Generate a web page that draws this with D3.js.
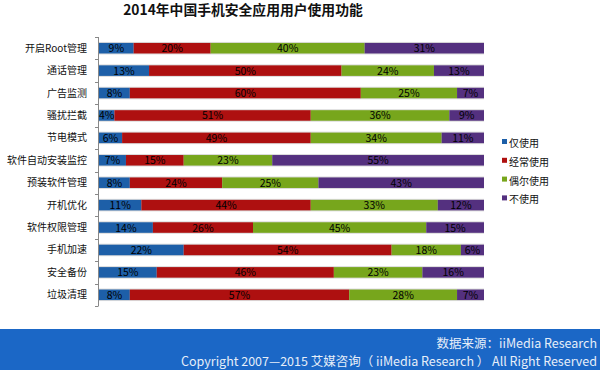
<!DOCTYPE html>
<html>
<head>
<meta charset="utf-8">
<script src="https://cdn.jsdelivr.net/npm/d3@7"></script>
<style>
  body { margin: 0; background: #fff; }
  svg text { font-family: "Noto Sans CJK SC", "DejaVu Sans", sans-serif; }
</style>
</head>
<body>
<div id="chart"></div>
<script>
'use strict';

// chart data
const categories = ['开启Root管理', '通话管理', '广告监测', '骚扰拦截', '节电模式', '软件自动安装监控',
    '预装软件管理', '开机优化', '软件权限管理', '手机加速', '安全备份', '垃圾清理'];
const seriesNames = ['仅使用', '经常使用', '偶尔使用', '不使用'];
const onlyUse = [9, 13, 8, 4, 6, 7, 8, 11, 14, 22, 15, 8];
const oftenUse = [20, 50, 60, 51, 49, 15, 24, 44, 26, 54, 46, 57];
const sometimesUse = [40, 24, 25, 36, 34, 23, 25, 33, 45, 18, 23, 28];
const neverUse = [31, 13, 7, 9, 11, 55, 43, 12, 15, 6, 16, 7];
const colors = ['#1d5fa8', '#ae1010', '#77a61c', '#54307f'];

const width = 600, height = 370;

let svg = d3.select('#chart').append('svg')
    .attr('width', width)
    .attr('height', height);

// title
svg.append('text')
    .attr('x', 243)
    .attr('y', 15)
    .attr('text-anchor', 'middle')
    .attr('font-size', 13.8)
    .attr('font-weight', 'bold')
    .attr('fill', '#111')
    .text('2014年中国手机安全应用用户使用功能');

let rows = categories.map((c, i) => ({
    name: c,
    values: [onlyUse[i], oftenUse[i], sometimesUse[i], neverUse[i]]
}));

let x = d3.scaleLinear().domain([0, 100]).range([99, 484]);
let y = d3.scaleBand().domain(categories).range([37, 306]).paddingInner(0.53).paddingOuter(0.265);

// category labels
svg.append('g').selectAll('text')
    .data(categories)
  .enter().append('text')
    .attr('x', 87)
    .attr('y', d => y(d) + y.bandwidth() / 2 + 3.5)
    .attr('text-anchor', 'end')
    .attr('font-size', 10)
    .attr('fill', '#111')
    .text(d => d);

// axis line and ticks between rows
let step = y.step();
svg.append('line')
    .attr('x1', 98.5).attr('x2', 98.5)
    .attr('y1', 37).attr('y2', 306)
    .attr('stroke', '#888');
svg.append('g').selectAll('line')
    .data(d3.range(categories.length + 1))
  .enter().append('line')
    .attr('x1', 95).attr('x2', 98.5)
    .attr('y1', i => Math.round(37 + i * step) + 0.5)
    .attr('y2', i => Math.round(37 + i * step) + 0.5)
    .attr('stroke', '#888');

// bars
let rowG = svg.append('g').selectAll('g')
    .data(rows)
  .enter().append('g')
    .attr('transform', d => `translate(0, ${y(d.name)})`);

// light shadow behind each bar
rowG.append('rect')
    .attr('x', x(0))
    .attr('y', -1)
    .attr('width', x(100) - x(0))
    .attr('height', y.bandwidth() + 2)
    .attr('fill', '#dcdcdc');

let segs = rowG.selectAll('g.seg')
    .data(d => {
        let acc = 0;
        return d.values.map((v, k) => {
            let s = { start: acc, value: v, k: k };
            acc += v;
            return s;
        });
    })
  .enter().append('g')
    .attr('class', 'seg');

segs.append('rect')
    .attr('x', d => x(d.start))
    .attr('y', 0)
    .attr('width', d => x(d.start + d.value) - x(d.start))
    .attr('height', y.bandwidth())
    .attr('fill', d => colors[d.k]);

segs.append('text')
    .attr('x', d => (x(d.start) + x(d.start + d.value)) / 2)
    .attr('y', y.bandwidth() / 2 + 4)
    .attr('text-anchor', 'middle')
    .attr('font-size', 10.5)
    .attr('fill', '#000')
    .text(d => d.value + '%');

// legend
let legend = svg.append('g').selectAll('g')
    .data(seriesNames)
  .enter().append('g')
    .attr('transform', (d, i) => `translate(502, ${143 + i * 18.8})`);

legend.append('rect')
    .attr('x', 0).attr('y', -4)
    .attr('width', 5).attr('height', 5)
    .attr('fill', (d, i) => colors[i]);

legend.append('text')
    .attr('x', 7)
    .attr('y', 4)
    .attr('font-size', 10)
    .attr('fill', '#111')
    .text(d => d);

// footer band
svg.append('rect')
    .attr('x', 0).attr('y', 329)
    .attr('width', width).attr('height', 41)
    .attr('fill', '#1b67c6');

svg.append('text')
    .attr('x', 597).attr('y', 348)
    .attr('text-anchor', 'end')
    .attr('font-size', 12.5)
    .attr('fill', '#e6eef9')
    .text('数据来源：iiMedia Research');

svg.append('text')
    .attr('x', 597).attr('y', 366)
    .attr('text-anchor', 'end')
    .attr('font-size', 12.5)
    .attr('fill', '#e6eef9')
    .text('Copyright 2007—2015 艾媒咨询（ iiMedia Research ） All Right Reserved');
</script>
</body>
</html>
